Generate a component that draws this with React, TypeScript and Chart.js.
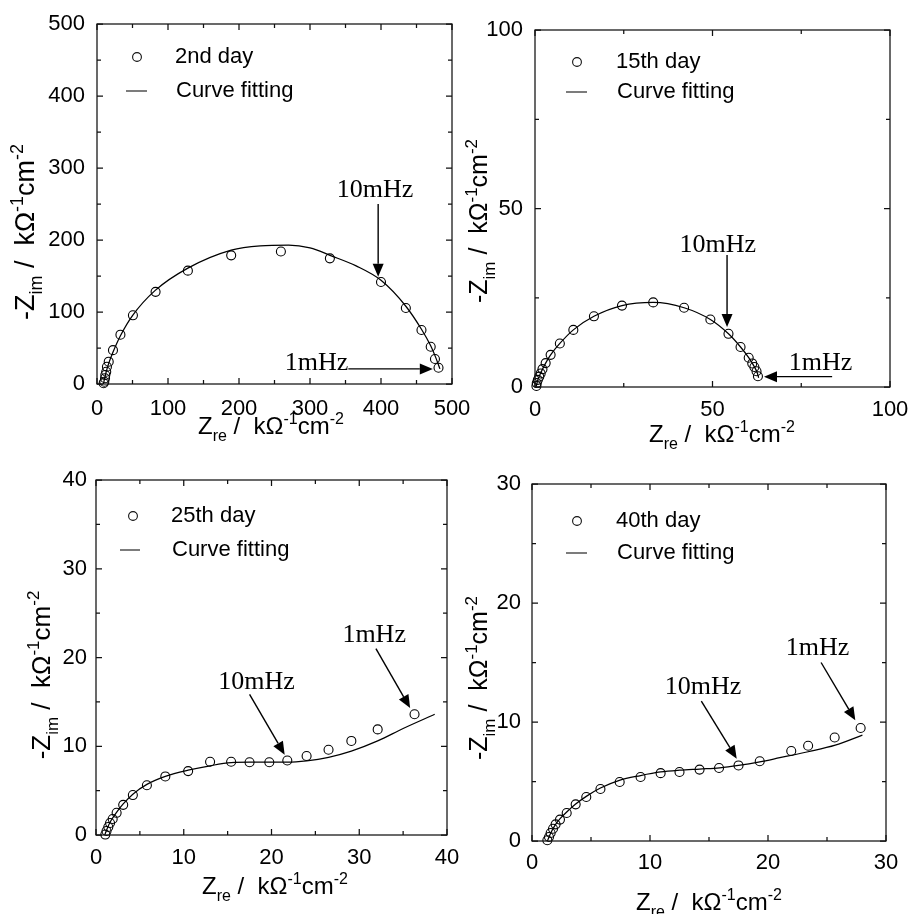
import React, { useEffect, useRef } from "react";
import { Chart, registerables } from "chart.js";

Chart.register(...registerables);

const SANS = '"Liberation Sans", Arial, sans-serif';
const SERIF = '"Liberation Serif", "Times New Roman", serif';

// ---------- 2nd day ----------
const DAY2_RE = [9.3, 10.3, 11.3, 11.7, 13, 14, 16.5, 22.5, 33, 50.6, 82.5, 128, 189, 259, 328, 400, 435, 457, 470, 476, 481];
const DAY2_IM = [1, 3.2, 8, 12.5, 17, 24, 31, 47, 68.5, 95.4, 128, 157.4, 178.7, 184, 174.5, 141.7, 105.6, 75, 51.8, 34.7, 22.6];
const DAY2_FIT_RE = [9, 11, 13.5, 17, 22, 33, 50, 82, 128, 189, 230, 270, 300, 330, 365, 400, 435, 457, 470, 477, 483];
const DAY2_FIT_IM = [0, 9, 19, 30, 43, 67, 95, 130, 161, 186, 192, 193, 189, 178, 164, 144, 108, 76, 53, 37, 21];

// ---------- 15th day ----------
const DAY15_RE = [0.4, 0.5, 0.8, 1.2, 1.6, 2.1, 3.0, 4.4, 7.0, 10.8, 16.6, 24.5, 33.3, 42, 49.4, 54.5, 57.9, 60.2, 61.2, 61.8, 62.4, 62.8];
const DAY15_IM = [0.3, 1.1, 2.0, 2.9, 3.8, 5.0, 6.7, 9.0, 12.2, 16, 19.8, 22.8, 23.7, 22.2, 18.9, 14.9, 11.2, 8.2, 6.6, 5.6, 4.4, 3.0];
const DAY15_FIT_RE = [0.3, 0.8, 1.6, 3.0, 4.4, 7.0, 10.8, 16.6, 24.5, 33.3, 42, 49.4, 54.5, 57.9, 60.2, 61.6, 62.6, 63.0];
const DAY15_FIT_IM = [0, 2.0, 3.9, 6.7, 9.0, 12.2, 16, 19.8, 22.8, 23.7, 22.2, 18.9, 14.9, 11.2, 8.2, 6.0, 4.0, 2.6];

// ---------- 25th day ----------
const DAY25_RE = [1.06, 1.2, 1.4, 1.6, 1.9, 2.35, 3.1, 4.2, 5.8, 7.9, 10.5, 13.0, 15.4, 17.5, 19.75, 21.8, 24.0, 26.5, 29.1, 32.1, 36.3];
const DAY25_IM = [0.05, 0.45, 0.9, 1.35, 1.8, 2.5, 3.4, 4.5, 5.6, 6.6, 7.2, 8.25, 8.25, 8.2, 8.2, 8.4, 8.9, 9.6, 10.6, 11.9, 13.6];
const DAY25_FIT_RE = [1.0, 1.3, 1.7, 2.3, 3.1, 4.2, 5.8, 7.9, 10.5, 13, 15.4, 17.5, 19.8, 21.8, 24, 26.5, 29.1, 32.1, 35, 38.6];
const DAY25_FIT_IM = [0, 0.8, 1.6, 2.5, 3.5, 4.6, 5.7, 6.6, 7.3, 7.8, 8.15, 8.2, 8.2, 8.2, 8.35, 8.75, 9.45, 10.6, 12.0, 13.6];

// ---------- 40th day ----------
const DAY40_RE = [1.3, 1.44, 1.58, 1.78, 2.0, 2.37, 2.94, 3.7, 4.6, 5.8, 7.43, 9.2, 10.9, 12.5, 14.2, 15.85, 17.5, 19.3, 21.97, 23.4, 25.65, 27.85];
const DAY40_IM = [0.06, 0.34, 0.67, 1.03, 1.4, 1.8, 2.35, 3.08, 3.7, 4.37, 4.96, 5.38, 5.7, 5.8, 6.0, 6.13, 6.35, 6.7, 7.56, 8.0, 8.7, 9.5];
const DAY40_FIT_RE = [1.3, 1.6, 2.0, 2.4, 2.9, 3.7, 4.6, 5.8, 7.4, 9.2, 10.9, 12.5, 14.2, 15.9, 17.5, 19.3, 21, 23.4, 25.7, 28];
const DAY40_FIT_IM = [0, 0.7, 1.4, 1.9, 2.4, 3.1, 3.75, 4.45, 5.1, 5.5, 5.8, 5.95, 6.05, 6.15, 6.35, 6.65, 7.0, 7.5, 8.05, 8.9];

// ---------- ticks ----------
const P1_TICKS = [0, 100, 200, 300, 400, 500];
const P1_MINOR = [50, 150, 250, 350, 450];
const P2_TICKS = [0, 50, 100];
const P2_MINOR = [25, 75];
const P3_TICKS = [0, 10, 20, 30, 40];
const P3_MINOR = [5, 15, 25, 35];
const P4_TICKS = [0, 10, 20, 30];
const P4_MINOR = [5, 15, 25];

// ---------- legend labels ----------
const SERIES_LABELS = ["2nd day", "15th day", "25th day", "40th day"];
const FIT_LABEL = "Curve fitting";

// ---------- frequency annotations (data units) ----------
// [text, textX, textY, align, tailX, tailY, tipX, tipY]
type Note = [string, number, number, CanvasTextAlign, number, number, number, number];
const DAY2_NOTES: Note[] = [
  ["10mHz", 391.5, 260, "center", 396, 250, 396, 149],
  ["1mHz", 354, 19.4, "right", 354, 21, 473, 21],
];
const DAY15_NOTES: Note[] = [
  ["10mHz", 51.5, 37.8, "center", 54.1, 37, 54.1, 16.8],
  ["1mHz", 71.5, 4.8, "left", 83.7, 2.9, 64.5, 2.9],
];
const DAY25_NOTES: Note[] = [
  ["1mHz", 31.7, 21.7, "center", 31.9, 21, 35.8, 14.3],
  ["10mHz", 18.3, 16.45, "center", 17.5, 15.85, 21.5, 9.05],
];
const DAY40_NOTES: Note[] = [
  ["1mHz", 24.2, 15.6, "center", 24.5, 15.0, 27.4, 10.14],
  ["10mHz", 14.5, 12.35, "center", 14.35, 11.76, 17.35, 6.92],
];

type Part = { t: string; k: "n" | "sub" | "sup" };
const X_TITLE: Part[] = [
  { t: "Z", k: "n" }, { t: "re", k: "sub" }, { t: " /  k\u03A9", k: "n" },
  { t: "-1", k: "sup" }, { t: "cm", k: "n" }, { t: "-2", k: "sup" },
];
const Y_TITLE: Part[] = [
  { t: "-Z", k: "n" }, { t: "im", k: "sub" }, { t: " /  k\u03A9", k: "n" },
  { t: "-1", k: "sup" }, { t: "cm", k: "n" }, { t: "-2", k: "sup" },
];

const toXY = (xs: number[], ys: number[]) => xs.map((x, i) => ({ x, y: ys[i] }));

type PanelCfg = {
  key: string;
  box: { left: number; top: number; width: number; height: number };
  yW: number; xH: number; padTop: number; padRight: number;
  max: number; ticks: number[]; minor: number[];
  xLabelPad: number; yLabelPad: number;
  re: number[]; im: number[]; fitRe: number[]; fitIm: number[];
  label: string;
  legend: { mx: number; my: number; tx: number; lx0: number; lx1: number; ly: number };
  notes: Note[];
  yTitle: { dx: number; dy: number; size: number };
  xTitle: { dx: number; dy: number; size: number };
  tension: number;
};

const PANELS: PanelCfg[] = [
  {
    key: "p1", box: { left: 0, top: 0, width: 480, height: 457 },
    yW: 97, xH: 73, padTop: 24, padRight: 28,
    max: 500, ticks: P1_TICKS, minor: P1_MINOR, xLabelPad: 12, yLabelPad: 12,
    re: DAY2_RE, im: DAY2_IM, fitRe: DAY2_FIT_RE, fitIm: DAY2_FIT_IM,
    label: SERIES_LABELS[0],
    legend: { mx: 40, my: 33, tx: 78, lx0: 29, lx1: 50, ly: 67 },
    notes: DAY2_NOTES,
    yTitle: { dx: -63, dy: 208, size: 27 }, xTitle: { dx: 174, dy: 50, size: 24 },
    tension: 0.3,
  },
  {
    key: "p2", box: { left: 454, top: 0, width: 454, height: 457 },
    yW: 81, xH: 70, padTop: 30, padRight: 18,
    max: 100, ticks: P2_TICKS, minor: P2_MINOR, xLabelPad: 10, yLabelPad: 12,
    re: DAY15_RE, im: DAY15_IM, fitRe: DAY15_FIT_RE, fitIm: DAY15_FIT_IM,
    label: SERIES_LABELS[1],
    legend: { mx: 42, my: 32, tx: 81, lx0: 31, lx1: 52, ly: 62 },
    notes: DAY15_NOTES,
    yTitle: { dx: -48, dy: 191, size: 25 }, xTitle: { dx: 187, dy: 55, size: 24 },
    tension: 0.15,
  },
  {
    key: "p3", box: { left: 0, top: 457, width: 480, height: 457 },
    yW: 96, xH: 79, padTop: 23, padRight: 33,
    max: 40, ticks: P3_TICKS, minor: P3_MINOR, xLabelPad: 10, yLabelPad: 9,
    re: DAY25_RE, im: DAY25_IM, fitRe: DAY25_FIT_RE, fitIm: DAY25_FIT_IM,
    label: SERIES_LABELS[2],
    legend: { mx: 37, my: 36, tx: 75, lx0: 24, lx1: 44, ly: 70 },
    notes: DAY25_NOTES,
    yTitle: { dx: -46, dy: 195, size: 26 }, xTitle: { dx: 179, dy: 59, size: 24 },
    tension: 0.3,
  },
  {
    key: "p4", box: { left: 454, top: 457, width: 454, height: 457 },
    yW: 78, xH: 73, padTop: 27, padRight: 22,
    max: 30, ticks: P4_TICKS, minor: P4_MINOR, xLabelPad: 9, yLabelPad: 11,
    re: DAY40_RE, im: DAY40_IM, fitRe: DAY40_FIT_RE, fitIm: DAY40_FIT_IM,
    label: SERIES_LABELS[3],
    legend: { mx: 45, my: 37, tx: 84, lx0: 34, lx1: 55, ly: 69 },
    notes: DAY40_NOTES,
    yTitle: { dx: -45, dy: 194, size: 25 }, xTitle: { dx: 177, dy: 69, size: 24 },
    tension: 0.3,
  },
];

function drawRich(ctx: CanvasRenderingContext2D, parts: Part[], x: number, y: number, size: number) {
  const small = Math.round(size * 0.66);
  const fontFor = (k: string) => `${k === "n" ? size : small}px ${SANS}`;
  let total = 0;
  const widths = parts.map((p) => {
    ctx.font = fontFor(p.k);
    const w = ctx.measureText(p.t).width;
    total += w;
    return w;
  });
  let cx = x - total / 2;
  ctx.textAlign = "left";
  ctx.textBaseline = "alphabetic";
  parts.forEach((p, i) => {
    ctx.font = fontFor(p.k);
    const dy = p.k === "sub" ? size * 0.3 : p.k === "sup" ? -size * 0.42 : 0;
    ctx.fillText(p.t, cx, y + dy);
    cx += widths[i];
  });
}

function drawArrow(ctx: CanvasRenderingContext2D, x0: number, y0: number, x1: number, y1: number) {
  const ang = Math.atan2(y1 - y0, x1 - x0);
  const head = 13;
  const half = 5.5;
  const bx = x1 - head * Math.cos(ang);
  const by = y1 - head * Math.sin(ang);
  ctx.beginPath();
  ctx.moveTo(x0, y0);
  ctx.lineTo(bx, by);
  ctx.stroke();
  ctx.beginPath();
  ctx.moveTo(x1, y1);
  ctx.lineTo(bx + half * Math.sin(ang), by - half * Math.cos(ang));
  ctx.lineTo(bx - half * Math.sin(ang), by + half * Math.cos(ang));
  ctx.closePath();
  ctx.fill();
}

function makeDecor(p: PanelCfg) {
  return {
    id: "decor_" + p.key,
    afterDatasetsDraw(chart: any) {
      const ctx: CanvasRenderingContext2D = chart.ctx;
      const a = chart.chartArea;
      const xs = chart.scales.x;
      const ys = chart.scales.y;
      ctx.save();
      ctx.strokeStyle = "#111";
      ctx.fillStyle = "#000";
      ctx.lineWidth = 1.25;
      ctx.strokeRect(a.left, a.top, a.right - a.left, a.bottom - a.top);

      const tickX = (v: number, len: number) => {
        const px = xs.getPixelForValue(v);
        ctx.beginPath();
        ctx.moveTo(px, a.bottom);
        ctx.lineTo(px, a.bottom - len);
        ctx.moveTo(px, a.top);
        ctx.lineTo(px, a.top + len);
        ctx.stroke();
      };
      const tickY = (v: number, len: number) => {
        const py = ys.getPixelForValue(v);
        ctx.beginPath();
        ctx.moveTo(a.left, py);
        ctx.lineTo(a.left + len, py);
        ctx.moveTo(a.right, py);
        ctx.lineTo(a.right - len, py);
        ctx.stroke();
      };
      p.ticks.forEach((v) => { tickX(v, 6); tickY(v, 6); });
      p.minor.forEach((v) => { tickX(v, 4); tickY(v, 4); });

      // legend
      const L = p.legend;
      ctx.lineWidth = 1.1;
      ctx.beginPath();
      ctx.arc(a.left + L.mx, a.top + L.my, 4.4, 0, Math.PI * 2);
      ctx.stroke();
      ctx.beginPath();
      ctx.moveTo(a.left + L.lx0, a.top + L.ly);
      ctx.lineTo(a.left + L.lx1, a.top + L.ly);
      ctx.stroke();
      ctx.font = `22px ${SANS}`;
      ctx.textAlign = "left";
      ctx.textBaseline = "middle";
      ctx.fillText(p.label, a.left + L.tx, a.top + L.my);
      ctx.fillText(FIT_LABEL, a.left + L.tx + 1, a.top + L.ly);

      // annotations
      ctx.lineWidth = 1.4;
      ctx.strokeStyle = "#000";
      ctx.font = `26px ${SERIF}`;
      ctx.textBaseline = "alphabetic";
      p.notes.forEach((n) => {
        const [text, tx, ty, align, x0, y0, x1, y1] = n;
        ctx.textAlign = align;
        ctx.fillText(text, xs.getPixelForValue(tx), ys.getPixelForValue(ty));
        drawArrow(
          ctx,
          xs.getPixelForValue(x0), ys.getPixelForValue(y0),
          xs.getPixelForValue(x1), ys.getPixelForValue(y1)
        );
      });

      // axis titles
      drawRich(ctx, X_TITLE, a.left + p.xTitle.dx, a.bottom + p.xTitle.dy, p.xTitle.size);
      ctx.save();
      ctx.translate(a.left + p.yTitle.dx, a.top + p.yTitle.dy);
      ctx.rotate(-Math.PI / 2);
      drawRich(ctx, Y_TITLE, 0, 0, p.yTitle.size);
      ctx.restore();

      ctx.restore();
    },
  };
}

function Panel({ p }: { p: PanelCfg }) {
  const ref = useRef<HTMLCanvasElement | null>(null);
  useEffect(() => {
    if (!ref.current) return;
    const tickFont = { family: SANS, size: 22 };
    const chart = new Chart(ref.current, {
      type: "scatter",
      data: {
        datasets: [
          {
            label: p.label,
            data: toXY(p.re, p.im),
            showLine: false,
            pointStyle: "circle",
            pointRadius: 4.5,
            pointBorderWidth: 1.1,
            borderColor: "#000",
            backgroundColor: "rgba(0,0,0,0)",
            clip: false,
          } as any,
          {
            label: FIT_LABEL,
            data: toXY(p.fitRe, p.fitIm),
            showLine: true,
            pointRadius: 0,
            borderColor: "#000",
            borderWidth: 1.25,
            tension: p.tension,
            cubicInterpolationMode: "monotone",
            backgroundColor: "rgba(0,0,0,0)",
          } as any,
        ],
      },
      options: {
        animation: false,
        responsive: true,
        maintainAspectRatio: false,
        events: [],
        layout: { padding: { top: p.padTop, right: p.padRight, left: 0, bottom: 0 } },
        plugins: { legend: { display: false }, tooltip: { enabled: false } },
        scales: {
          x: {
            type: "linear",
            position: "bottom",
            min: 0,
            max: p.max,
            afterBuildTicks: (s: any) => { s.ticks = p.ticks.map((v) => ({ value: v })); },
            ticks: { font: tickFont, color: "#000", padding: p.xLabelPad, maxRotation: 0, minRotation: 0, autoSkip: false },
            grid: { display: false, drawTicks: false },
            border: { display: false },
            afterFit: (s: any) => { s.height = p.xH; s.paddingLeft = 0; s.paddingRight = 0; },
          },
          y: {
            type: "linear",
            position: "left",
            min: 0,
            max: p.max,
            afterBuildTicks: (s: any) => { s.ticks = p.ticks.map((v) => ({ value: v })); },
            ticks: { font: tickFont, color: "#000", padding: p.yLabelPad, autoSkip: false },
            grid: { display: false, drawTicks: false },
            border: { display: false },
            afterFit: (s: any) => { s.width = p.yW; s.paddingTop = 0; s.paddingBottom = 0; },
          },
        },
      } as any,
      plugins: [makeDecor(p)],
    });
    return () => chart.destroy();
  }, [p]);
  return (
    <div style={{ position: "absolute", left: p.box.left, top: p.box.top, width: p.box.width, height: p.box.height }}>
      <canvas ref={ref} />
    </div>
  );
}

export default function App() {
  return (
    <div style={{ position: "absolute", left: 0, top: 0, width: 908, height: 914, overflow: "hidden", background: "#fff" }}>
      {PANELS.map((p) => (
        <Panel key={p.key} p={p} />
      ))}
    </div>
  );
}
